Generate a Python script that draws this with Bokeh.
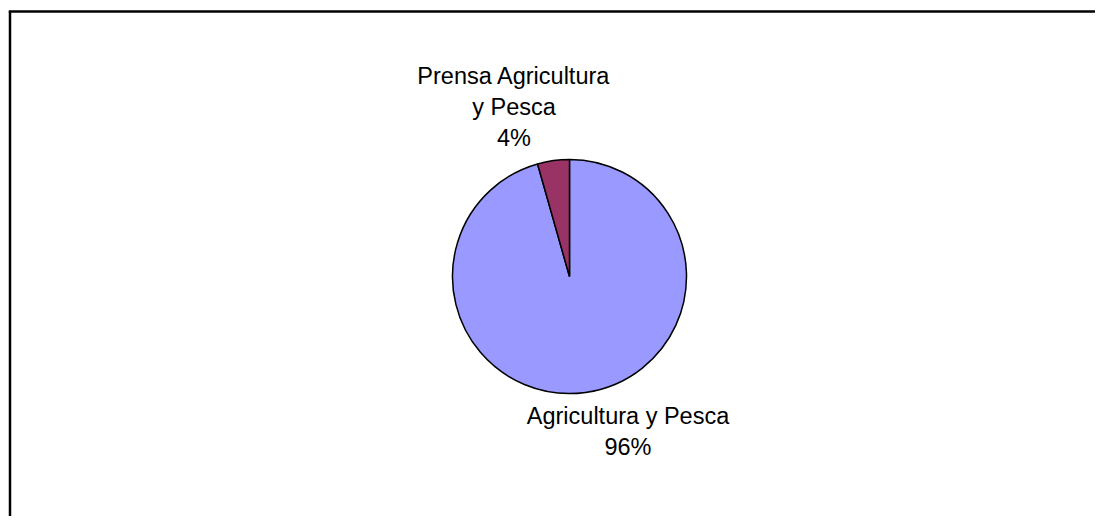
from bokeh.plotting import figure
from bokeh.models import Range1d, ColumnDataSource
from bokeh.core.properties import value
from bokeh.embed import file_html
from bokeh.resources import INLINE
import math

# ---- data ----
categories = ["Agricultura y Pesca", "Prensa Agricultura y Pesca"]
values = [95.6, 4.4]
label_lines = [["Agricultura y Pesca", "96%"], ["Prensa Agricultura", "y Pesca", "4%"]]
colors = ["#9999FF", "#993366"]

# ---- layout ----
W, H = 1095, 516
cx, cy, r = 569, 240, 117
label_pos = [(627.5, 101), (513.5, 441)]
line_step = 31
font_px = "23.5px"

p = figure(width=W, height=H, x_range=Range1d(0, W), y_range=Range1d(0, H),
           output_backend="svg", toolbar_location=None, min_border=0)
p.axis.visible = False
p.grid.visible = False
p.outline_line_color = None
p.background_fill_color = "white"
p.border_fill_color = "white"

# outer frame: only the left and top edges fall inside the visible window
p.segment(x0=[9.5, 8.25], y0=[-20, H - 11], x1=[9.5, W + 20], y1=[H - 11, H - 11],
          line_color="black", line_width=2.5)

total = sum(values)
starts, ends = [], []
acc = 0.0
for v in values:
    a0 = math.pi / 2 - 2 * math.pi * acc / total
    acc += v
    a1 = math.pi / 2 - 2 * math.pi * acc / total
    starts.append(a0)
    ends.append(a1)

src = ColumnDataSource(dict(start=starts, end=ends, color=colors, cat=categories))
p.wedge(x=cx, y=cy, radius=r, start_angle="start", end_angle="end", direction="clock",
        fill_color="color", line_color="black", line_width=1.5, source=src)

tx, ty, tt = [], [], []
for (lx, ly), lines in zip(label_pos, label_lines):
    for i, s in enumerate(lines):
        tx.append(lx)
        ty.append(ly - i * line_step)
        tt.append(s)
p.text(x=tx, y=ty, text=tt, text_align="center", text_baseline="alphabetic",
       text_font=value("Liberation Sans"), text_font_size=font_px, text_color="black")

open("out.html", "w").write(file_html(p, INLINE))
